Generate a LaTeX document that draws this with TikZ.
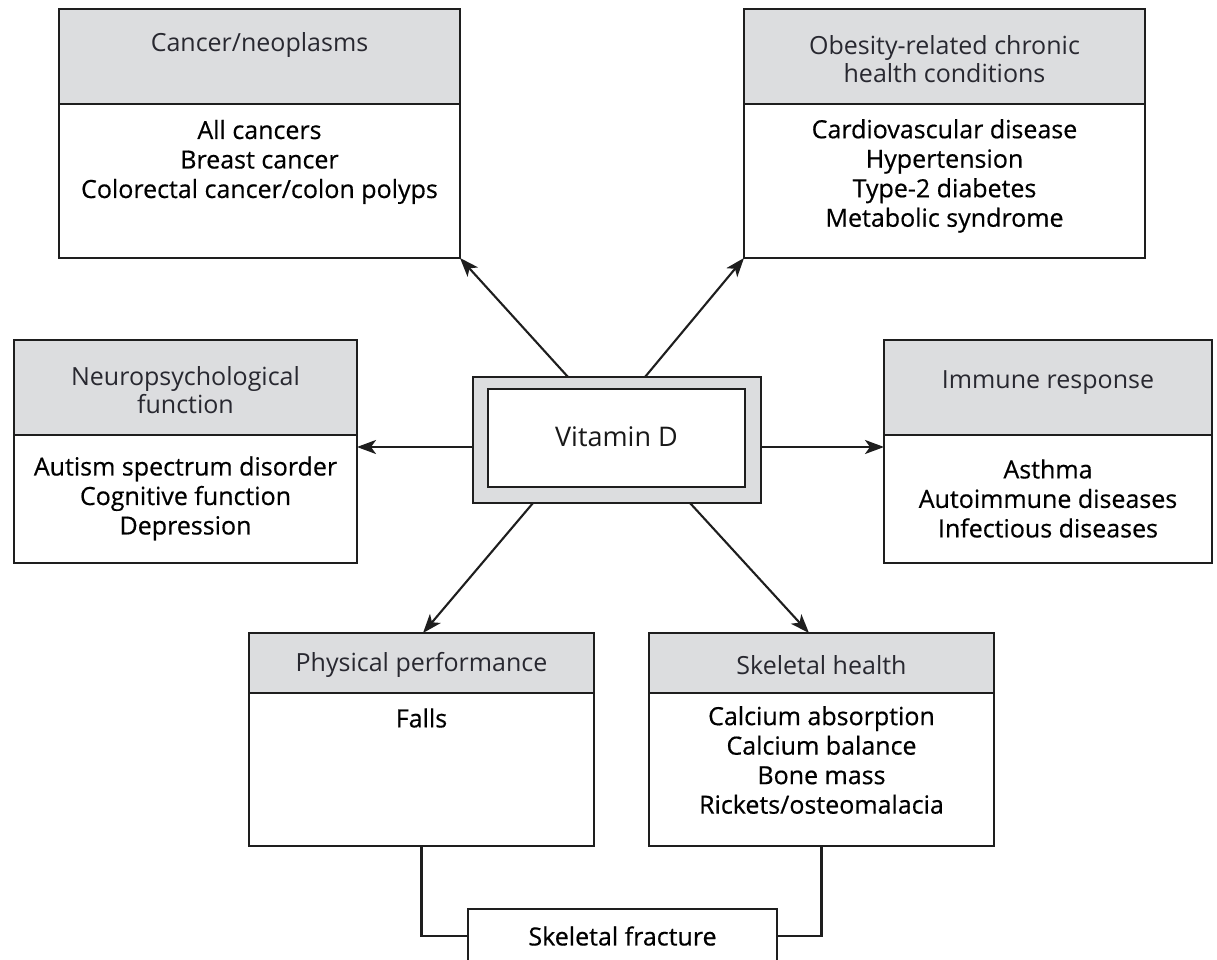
\documentclass[tikz,border=0pt]{standalone}
\usepackage{fontspec}
\setmainfont{Open Sans}
\newfontfamily\bodyfont[FakeBold=0.5]{Open Sans}
\usetikzlibrary{arrows.meta,calc}
\definecolor{hdrgray}{RGB}{220,221,223}
\definecolor{edgecol}{RGB}{30,30,30}
\definecolor{hdrtext}{RGB}{40,40,48}
\begin{document}
\begin{tikzpicture}[x=1pt,y=-1pt,
  box/.style={draw=edgecol,line width=2.4pt,anchor=north west,inner sep=0pt,outer sep=0pt},
  hdr/.style={box,fill=hdrgray},
  bdy/.style={box,fill=white},
  txt/.style={align=center,font=\bodyfont\fontsize{25}{29.5}\selectfont,inner sep=0pt,text=black},
  htxt/.style={align=center,inner sep=0pt,font=\fontsize{25}{28.5}\selectfont,text=hdrtext},
  arr/.style={draw=edgecol,line width=2.1pt,-{Stealth[length=19pt,width=14pt,inset=5pt]}},
  lnk/.style={draw=edgecol,line width=2.2pt}]
\fill[white] (0,0) rectangle (1217,960);
\useasboundingbox (0,0) rectangle (1217,960);

% Cancer
\node[hdr,minimum width=401pt,minimum height=95pt] (cancerH) at (59,9) {};
\node[bdy,minimum width=401pt,minimum height=154pt] (cancerB) at (59,104) {};
\node[htxt] (cancerHt) at (259.5,45) {Cancer/neoplasms};
\node[txt] (cancerBt) at (259.5,162) {All cancers\\Breast cancer\\Colorectal cancer/colon polyps};

% Obesity
\node[hdr,minimum width=401pt,minimum height=95pt] (obesH) at (744,9) {};
\node[bdy,minimum width=401pt,minimum height=154pt] (obesB) at (744,104) {};
\node[htxt] (obesHt) at (944.5,59) {Obesity-related chronic\\health conditions};
\node[txt] (obesBt) at (944.5,176) {Cardiovascular disease\\Hypertension\\Type-2 diabetes\\Metabolic syndrome};

% Neuropsychological
\node[hdr,minimum width=343pt,minimum height=95pt] (neuroH) at (14,340) {};
\node[bdy,minimum width=343pt,minimum height=128pt] (neuroB) at (14,435) {};
\node[htxt] (neuroHt) at (185.5,390) {Neuropsychological\\function};
\node[txt] (neuroBt) at (185.5,498.5) {Autism spectrum disorder\\Cognitive function\\Depression};

% Immune
\node[hdr,minimum width=328pt,minimum height=95pt] (immH) at (884,340) {};
\node[bdy,minimum width=328pt,minimum height=128pt] (immB) at (884,435) {};
\node[htxt] (immHt) at (1048,383) {Immune response};
\node[txt] (immBt) at (1048,498.5) {Asthma\\Autoimmune diseases\\Infectious diseases};

% Vitamin D
\node[hdr,minimum width=288pt,minimum height=126pt] (vitO) at (473,377) {};
\node[bdy,minimum width=257pt,minimum height=98pt] (vitI) at (488,389) {};
\node[htxt,font=\fontsize{27}{30}\selectfont,text=black!90] (vitT) at (616.5,437) {Vitamin D};

% Physical performance
\node[hdr,minimum width=345pt,minimum height=60pt] (physH) at (249,633) {};
\node[bdy,minimum width=345pt,minimum height=153pt] (physB) at (249,693) {};
\node[htxt] (physHt) at (421.5,665) {Physical performance};
\node[txt] (physBt) at (421.5,718) {Falls};

% Skeletal health
\node[hdr,minimum width=345pt,minimum height=60pt] (skelH) at (649,633) {};
\node[bdy,minimum width=345pt,minimum height=153pt] (skelB) at (649,693) {};
\node[htxt] (skelHt) at (821.5,665) {Skeletal health};
\node[txt] (skelBt) at (821.5,760) {Calcium absorption\\Calcium balance\\Bone mass\\Rickets/osteomalacia};

% Skeletal fracture
\node[bdy,minimum width=309pt,minimum height=54pt] (frac) at (468,909) {};
\node[txt] (fracT) at (622.5,936) {Skeletal fracture};

% Arrows
\draw[arr] ([xshift=95pt]vitO.north west) -- (cancerB.south east);
\draw[arr] ([xshift=172pt]vitO.north west) -- (obesB.south west);
\draw[arr] ([yshift=-7pt]vitO.west) -- ([yshift=-7pt]vitO.west -| neuroB.east);
\draw[arr] ([yshift=-7pt]vitO.east) -- ([yshift=-7pt]vitO.east -| immB.west);
\draw[arr] ([xshift=60pt]vitO.south west) -- ([xshift=174pt]physH.north west);
\draw[arr] ([xshift=217pt]vitO.south west) -- ([xshift=160pt]skelH.north west);

% Links to fracture
\draw[lnk] (physB.south) |- (frac.west);
\draw[lnk] (skelB.south) |- (frac.east);
\end{tikzpicture}
\end{document}
